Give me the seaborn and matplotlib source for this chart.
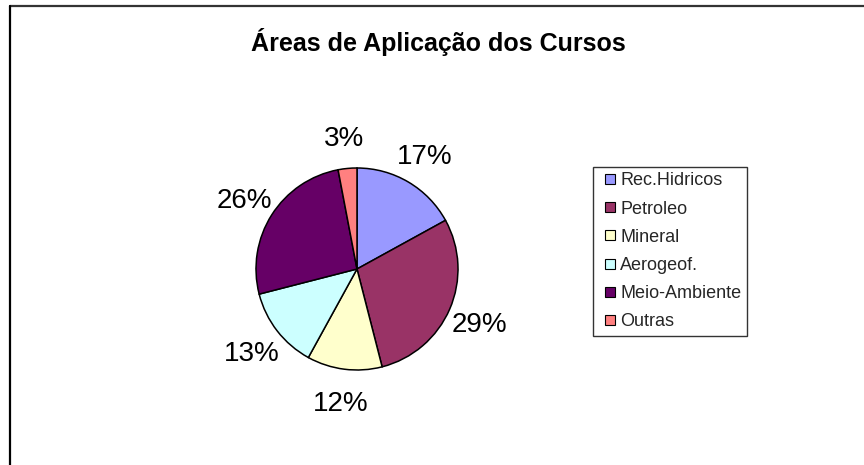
import matplotlib
matplotlib.use("Agg")
import matplotlib.pyplot as plt
from matplotlib.lines import Line2D
import seaborn as sns
import numpy as np

categories = ["Rec.Hidricos", "Petroleo", "Mineral", "Aerogeof.", "Meio-Ambiente", "Outras"]
values = [17, 29, 12, 13, 26, 3]
colors = ["#9999FF", "#993366", "#FFFFCC", "#CCFFFF", "#660066", "#FF8080"]
title = "Áreas de Aplicação dos Cursos"

sns.set_theme(style="white")
plt.rcParams['font.family'] = ['Liberation Sans', 'DejaVu Sans']

W, H = 864, 465
fig = plt.figure(figsize=(W / 100, H / 100), dpi=100)
fig.patch.set_facecolor("white")

# Border lines (top and left)
fig.add_artist(Line2D([10 / W, 1.0], [1 - 6 / H, 1 - 6 / H], transform=fig.transFigure,
                      color="#333333", lw=1.6))
fig.add_artist(Line2D([10 / W, 10 / W], [1 - 6 / H, 0.0], transform=fig.transFigure,
                      color="black", lw=1.6))

# Pie axes
cx, cy, r = 357, 269, 101
ax = fig.add_axes([(cx - r) / W, (H - cy - r) / H, 2 * r / W, 2 * r / H])
wedges, texts = ax.pie(values, colors=sns.color_palette(colors), startangle=90, counterclock=False,
                       wedgeprops=dict(edgecolor="black", linewidth=1.1))
ax.set_xlim(-1, 1)
ax.set_ylim(-1, 1)
ax.set_aspect("equal")
ax.axis("off")

total = sum(values)
ang = 90.0
for v in values:
    span = v / total * 360
    mid = np.deg2rad(ang - span / 2)
    ang -= span
    d = 1.32
    ax.text(d * np.cos(mid), d * np.sin(mid), f"{round(v / total * 100)}%",
            ha="center", va="center_baseline", fontsize=20, color="black", clip_on=False)

fig.text(438 / W, 1 - 51 / H, title, ha="center", va="baseline", fontsize=18,
         fontweight="bold", color="black")

handles = [Line2D([], [], marker="s", linestyle="none", markersize=7.4,
                  markerfacecolor=c, markeredgecolor="black", markeredgewidth=0.8)
           for c in colors]
leg = fig.legend(handles, categories, loc="upper left",
                 bbox_to_anchor=(593 / W, 1 - 167 / H), bbox_transform=fig.transFigure,
                 frameon=True, fancybox=False, shadow=False, fontsize=13,
                 handlelength=1.3, handletextpad=-0.1,
                 labelspacing=0.62, borderpad=0.3, borderaxespad=0)
leg.get_frame().set_edgecolor("black")
leg.get_frame().set_linewidth(1.0)

fig.savefig("out.png", dpi=100, facecolor="white")
